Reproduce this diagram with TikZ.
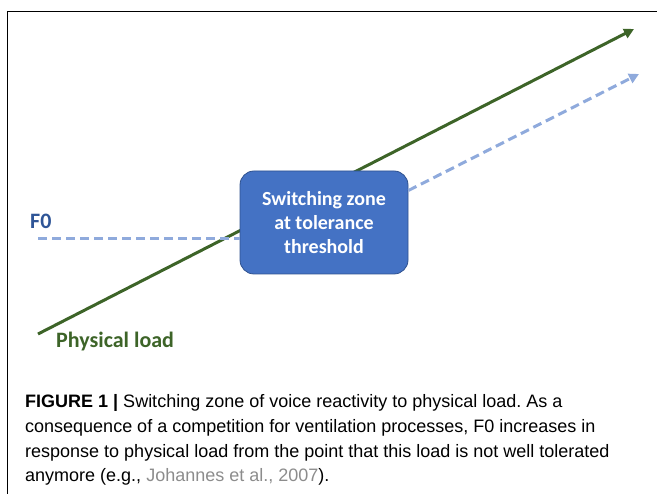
\documentclass[tikz,border=0pt]{standalone}
\usepackage{fontspec}
\setmainfont{Liberation Sans}
\newfontfamily\calib{Carlito}
\usetikzlibrary{arrows.meta,positioning,calc}
\frenchspacing

\definecolor{loadgreen}{HTML}{3D6428}
\definecolor{fzeroblue}{HTML}{8FAADC}
\definecolor{zonefill}{HTML}{4472C4}
\definecolor{zoneedge}{HTML}{2F528F}
\definecolor{labelblue}{HTML}{2F5597}
\definecolor{citegray}{HTML}{8C8C8C}

\begin{document}
\begin{tikzpicture}[
        x=1pt, y=-1pt,
        zone/.style={rectangle, rounded corners=14pt, draw=zoneedge, fill=zonefill, thick, align=center, text=white, font=\calib\bfseries\fontsize{20}{24}\selectfont, minimum width=168pt, minimum height=103pt},
        tag/.style={rectangle, draw=none, inner sep=0pt, anchor=base west, font=\calib\bfseries\fontsize{22}{24}\selectfont},
        load/.style={-{Triangle[length=10pt,width=10pt]}, loadgreen, line width=3pt},
        fzero/.style={fzeroblue, line width=3pt, dash pattern=on 9pt off 5pt},
        caption/.style={rectangle, inner sep=0pt, align=left, anchor=base west, font=\fontsize{18}{24.7}\selectfont}
    ]
        \useasboundingbox (0,0) rectangle (657,494);
        \draw[line width=1pt] (7,500) -- (7,12) -- (660,12);

        \coordinate (loadstart) at (38,334);
        \coordinate (loadend) at (634,29);
        \coordinate (f0start) at (38,239);
        \coordinate (f0end) at (639,74);

        \draw[load] (loadstart) -- (loadend);
        \node[zone] (switch) at (324,222.5) {Switching zone\\at tolerance\\threshold};

        \draw[fzero] (f0start) -- (f0start -| switch.west);
        \draw[fzero, -{Triangle[length=10pt,width=10pt]}] ([yshift=32pt]switch.east) -- (f0end);

        \node[tag, text=labelblue] (f0label) at (30,229) {F0};
        \node[tag, text=loadgreen] (loadlabel) at (56,348) {Physical load};

        % base of a multi-line node = last line
        \node[caption] (cap) at (25,482) {\textbf{FIGURE 1 |} Switching zone of voice reactivity to physical load. As a\\consequence of a competition for ventilation processes, F0 increases in\\response to physical load from the point that this load is not well tolerated\\anymore (e.g., \textcolor{citegray}{Johannes et al., 2007}).};
    \end{tikzpicture}
\end{document}
